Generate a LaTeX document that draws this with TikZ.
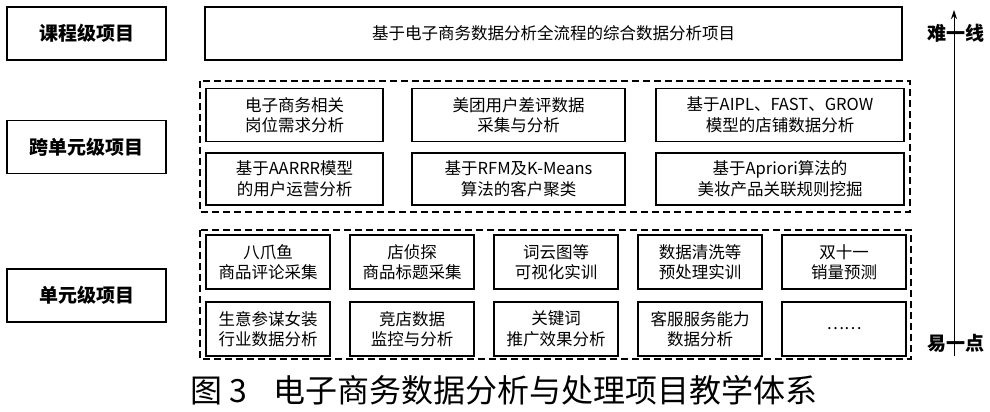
\documentclass[tikz,border=0pt]{standalone}
\usepackage{fontspec}
\setmainfont{Noto Sans CJK SC}
\usetikzlibrary{arrows.meta}

\begin{document}
\begin{tikzpicture}[x=1pt,y=-1pt,
    levelbox/.style={draw,line width=1.6pt,minimum width=159pt,minimum height=53pt,inner sep=0pt,font=\fontsize{19}{22}\selectfont\bfseries},
    projbox/.style={draw,line width=1.4pt,minimum height=53pt,inner sep=0pt,align=center,font=\fontsize{16.5}{20.5}\selectfont},
    groupbox/.style={draw,line width=1.2pt,dash pattern=on 7pt off 4pt},
    endlabel/.style={font=\fontsize{19}{22}\selectfont\bfseries,inner sep=0pt}]
        \useasboundingbox (0,0) rectangle (990,412);
        % levels on the left
        \node[levelbox] (course) at (86.5,33.5) {课程级项目};
        \node[levelbox] (cross) at (86.5,147) {跨单元级项目};
        \node[levelbox] (unit) at (86.5,295.5) {单元级项目};
        \node[projbox,minimum width=697pt] (whole) at (553.5,33.5) {基于电子商务数据分析全流程的综合数据分析项目};
        % cross-unit projects
        \draw[groupbox] (200,81) rectangle (910,212);
        \node[projbox,minimum width=177pt] (c1) at (294.5,115) {电子商务相关\\岗位需求分析};
        \node[projbox,minimum width=213pt] (c2) at (518.5,115) {美团用户差评数据\\采集与分析};
        \node[projbox,minimum width=248pt] (c3) at (780,115) {基于AIPL、FAST、GROW\\模型的店铺数据分析};
        \node[projbox,minimum width=177pt,minimum height=52pt] (c4) at (294.5,179) {基于AARRR模型\\的用户运营分析};
        \node[projbox,minimum width=213pt,minimum height=52pt] (c5) at (518.5,179) {基于RFM及K-Means\\算法的客户聚类};
        \node[projbox,minimum width=248pt,minimum height=52pt] (c6) at (780,179) {基于Apriori算法的\\美妆产品关联规则挖掘};
        % unit projects
        \draw[groupbox] (200,230) rectangle (911,359);
        \foreach \t [count=\i] in {{八爪鱼\\商品评论采集},{店侦探\\商品标题采集},{词云图等\\可视化实训},{数据清洗等\\预处理实训},{双十一\\销量预测}}{
          \node[projbox,minimum width=124pt,minimum height=54pt] (u\i) at ({124+144*\i},262) {\t};}
        \foreach \t [count=\i] in {{生意参谋女装\\行业数据分析},{竞店数据\\监控与分析},{关键词\\推广效果分析},{客服服务能力\\数据分析},{……}}{
          \node[projbox,minimum width=124pt,minimum height=54pt] (v\i) at ({124+144*\i},329) {\t};}
        % difficulty axis
        \coordinate (low) at (954,356);
        \coordinate (high) at (954,10);
        \draw[-{Stealth[length=9pt,width=6pt]},line width=1pt] (low) -- (high);
        \node[endlabel] (hard) at (956,33) {难一线};
        \node[endlabel] (easy) at (956,343) {易一点};
        % caption
        \node[font=\fontsize{32}{36}\selectfont,inner sep=0pt] (caption) at (504,390) {图~3\hspace{0.8em}电子商务数据分析与处理项目教学体系};
\end{tikzpicture}
\end{document}
